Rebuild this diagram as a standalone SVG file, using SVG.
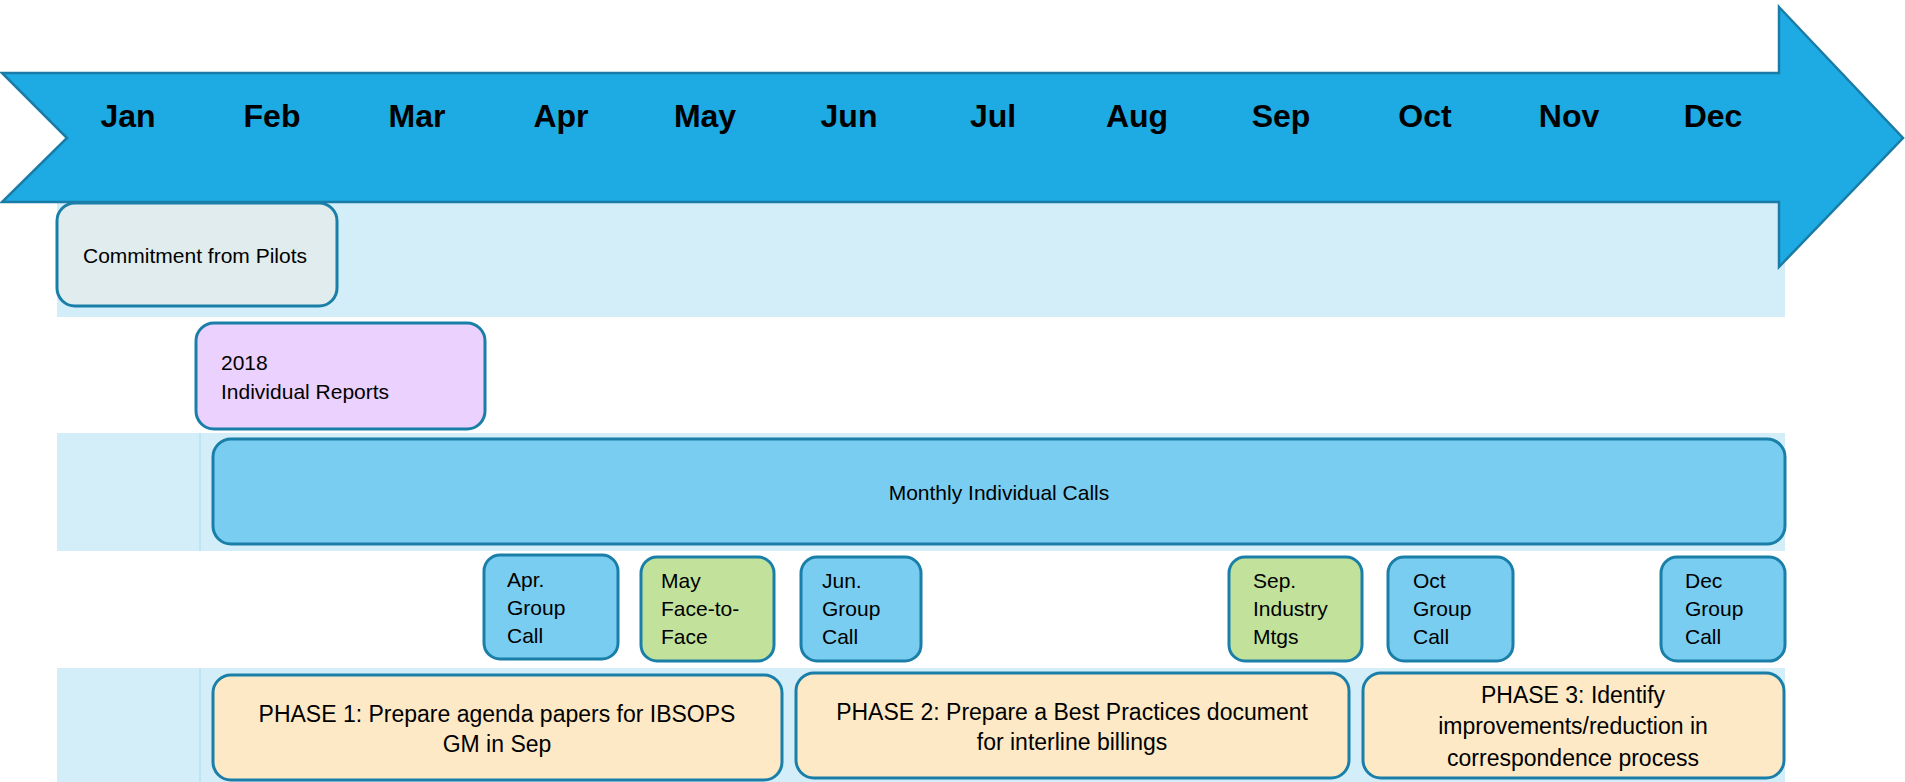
<svg xmlns="http://www.w3.org/2000/svg" width="1905" height="782" viewBox="0 0 1905 782">
<style>
.band{fill:#d3eef9;}
.sep{stroke:#b8e0f2;stroke-width:1.5;}
.box{stroke:#1a7fa8;stroke-width:3;}
.month{font-family:"Liberation Sans",Arial,sans-serif;font-weight:bold;font-size:32px;fill:#000;text-anchor:middle;}
.t{font-family:"Liberation Sans",Arial,sans-serif;font-size:21px;fill:#000;}
.p{font-family:"Liberation Sans",Arial,sans-serif;font-size:23px;fill:#000;text-anchor:middle;}
</style>
<rect fill="#fff" width="1905" height="782"/>
<g id="bands">
<rect class="band" x="57" y="202" width="1728" height="115"/>
<rect class="band" x="57" y="433" width="1728" height="118"/>
<rect class="band" x="57" y="668" width="1728" height="114"/>
<line class="sep" x1="200" y1="433" x2="200" y2="551"/>
<line class="sep" x1="200" y1="668" x2="200" y2="782"/>
</g>
<g id="timeline-arrow">
<polygon points="2,73 1779,73 1779,7 1903,138 1779,267 1779,202 2,202 67,138" fill="#1eabe3" stroke="#1a7ca6" stroke-width="2.5" stroke-linejoin="miter"/>
<text class="month" x="128" y="127">Jan</text>
<text class="month" x="272" y="127">Feb</text>
<text class="month" x="417" y="127">Mar</text>
<text class="month" x="561" y="127">Apr</text>
<text class="month" x="705" y="127">May</text>
<text class="month" x="849" y="127">Jun</text>
<text class="month" x="993" y="127">Jul</text>
<text class="month" x="1137" y="127">Aug</text>
<text class="month" x="1281" y="127">Sep</text>
<text class="month" x="1425" y="127">Oct</text>
<text class="month" x="1569" y="127">Nov</text>
<text class="month" x="1713" y="127">Dec</text>
</g>
<g id="commitment">
<rect class="box" x="57" y="203" width="280" height="103" rx="18" fill="#e0eced"/>
<text class="t" x="83" y="263">Commitment from Pilots</text>
</g>
<g id="reports">
<rect class="box" x="196" y="323" width="289" height="106" rx="18" fill="#ebd1fe"/>
<text class="t" x="221" y="370">2018</text>
<text class="t" x="221" y="399">Individual Reports</text>
</g>
<g id="monthly-calls">
<rect class="box" x="213" y="439" width="1572" height="105" rx="18" fill="#79cdf0"/>
<text class="t" x="999" y="500" text-anchor="middle">Monthly Individual Calls</text>
</g>
<g id="apr-call">
<rect class="box" x="484" y="555" width="134" height="104" rx="16" fill="#79cdf0"/>
<text class="t" x="507" y="587">Apr.</text>
<text class="t" x="507" y="615">Group</text>
<text class="t" x="507" y="643">Call</text>
</g>
<g id="may-f2f">
<rect class="box" x="641" y="557" width="133" height="104" rx="16" fill="#c2e29b"/>
<text class="t" x="661" y="588">May</text>
<text class="t" x="661" y="616">Face-to-</text>
<text class="t" x="661" y="644">Face</text>
</g>
<g id="jun-call">
<rect class="box" x="801" y="557" width="120" height="104" rx="16" fill="#79cdf0"/>
<text class="t" x="822" y="588">Jun.</text>
<text class="t" x="822" y="616">Group</text>
<text class="t" x="822" y="644">Call</text>
</g>
<g id="sep-mtgs">
<rect class="box" x="1229" y="557" width="133" height="104" rx="16" fill="#c2e29b"/>
<text class="t" x="1253" y="588">Sep.</text>
<text class="t" x="1253" y="616">Industry</text>
<text class="t" x="1253" y="644">Mtgs</text>
</g>
<g id="oct-call">
<rect class="box" x="1388" y="557" width="125" height="104" rx="16" fill="#79cdf0"/>
<text class="t" x="1413" y="588">Oct</text>
<text class="t" x="1413" y="616">Group</text>
<text class="t" x="1413" y="644">Call</text>
</g>
<g id="dec-call">
<rect class="box" x="1661" y="557" width="124" height="104" rx="16" fill="#79cdf0"/>
<text class="t" x="1685" y="588">Dec</text>
<text class="t" x="1685" y="616">Group</text>
<text class="t" x="1685" y="644">Call</text>
</g>
<g id="phase1">
<rect class="box" x="213" y="675" width="569" height="105" rx="18" fill="#fde9c6"/>
<text class="p" x="497" y="722">PHASE 1: Prepare agenda papers for IBSOPS</text>
<text class="p" x="497" y="752">GM in Sep</text>
</g>
<g id="phase2">
<rect class="box" x="796" y="673" width="553" height="105" rx="18" fill="#fde9c6"/>
<text class="p" x="1072" y="720">PHASE 2: Prepare a Best Practices document</text>
<text class="p" x="1072" y="750">for interline billings</text>
</g>
<g id="phase3">
<rect class="box" x="1363" y="673" width="421" height="105" rx="18" fill="#fde9c6"/>
<text class="p" x="1573" y="703">PHASE 3: Identify</text>
<text class="p" x="1573" y="734">improvements/reduction in</text>
<text class="p" x="1573" y="766">correspondence process</text>
</g>
<g id="connectors"></g>
</svg>
